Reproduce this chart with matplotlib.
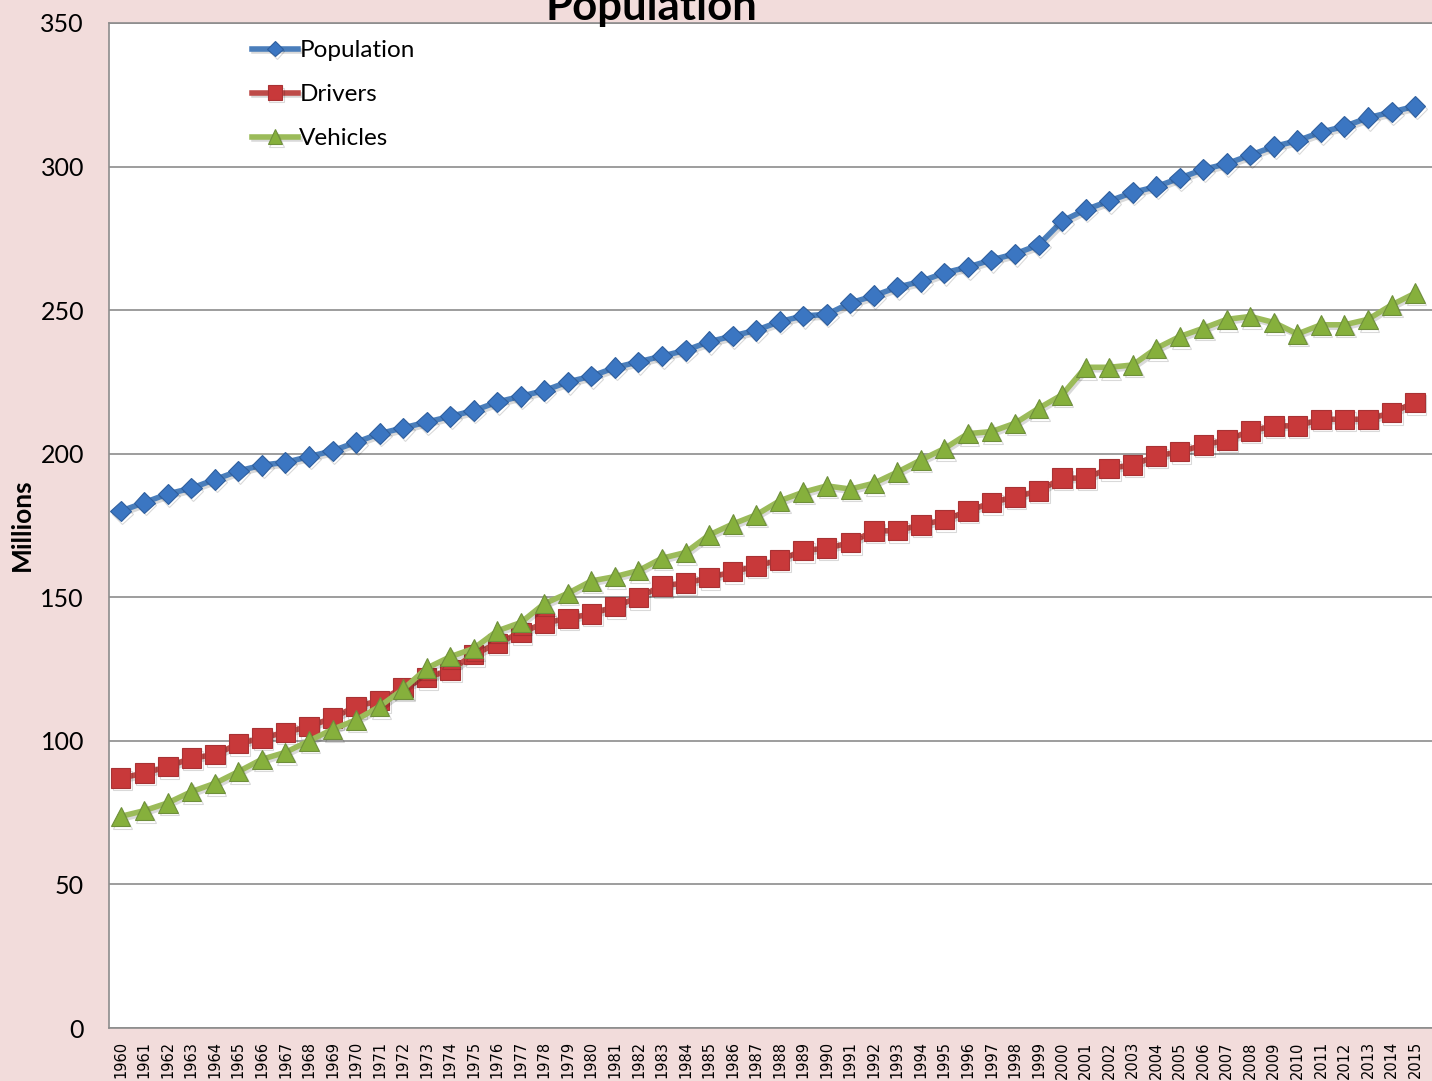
import matplotlib
matplotlib.use('Agg')
import matplotlib.pyplot as plt
import matplotlib.patheffects as pe

years = list(range(1960, 2016))

population = [180, 183, 186, 188, 191, 194, 196, 197, 199, 201,
              204, 207, 209, 211, 213, 215, 218, 220, 222, 225,
              227, 230, 232, 234, 236, 239, 241, 243, 246, 248,
              248.5, 252.5, 255, 258, 260, 263, 265, 267.5, 269.6, 272.7,
              281, 285, 288, 291, 293, 296, 299, 301, 304, 307,
              309, 312, 314, 317, 319, 321]

drivers = [87, 88.8, 91, 94, 95.2, 99, 101, 103, 105, 108,
           112, 114, 118.5, 122, 124.7, 130, 134, 137.7, 141, 142.7,
           144.2, 146.8, 150, 154, 155, 156.8, 158.9, 160.9, 163, 166.3,
           167.1, 169, 173.1, 173.2, 175.2, 177, 180, 183, 185, 187,
           191.5, 191.5, 194.9, 196.1, 199.2, 200.7, 203, 204.8, 207.9, 209.7,
           209.7, 212, 212, 212, 214.3, 217.9]

vehicles = [73.7, 75.7, 78.4, 82.3, 85.2, 89.3, 93.6, 96, 100, 104,
            107.3, 112, 118, 125.3, 129.3, 132.2, 138.3, 141.2, 147.8, 151.4,
            155.7, 157.2, 159.3, 163.6, 165.6, 171.7, 175.5, 178.7, 183.6, 186.6,
            188.8, 187.7, 189.7, 193.6, 197.8, 201.8, 207, 207.7, 210.6, 215.8,
            220.5, 230.1, 230.1, 230.9, 236.7, 240.8, 243.7, 246.8, 247.8, 245.7,
            241.7, 244.9, 244.9, 246.8, 251.8, 255.9]

bg = '#F2DCDB'
W, H = 1432, 1081
fig = plt.figure(figsize=(W / 100, H / 100), dpi=100, facecolor=bg)
ax = fig.add_axes([109 / W, (H - 1028) / H, (W - 109) / W, (1028 - 23) / H])
ax.set_facecolor('white')

x = list(range(len(years)))
shadow = [pe.SimpleLineShadow(offset=(1.2, -1.8), alpha=0.15, shadow_color='black'), pe.Normal()]

ax.plot(x, population, color='#4A7EBB', lw=4, marker='D', ms=10.5,
        mfc='#3B76C2', mec='#2F5F9E', mew=0.8, label='Population',
        path_effects=shadow, zorder=3)
ax.plot(x, drivers, color='#BE4B48', lw=4, marker='s', ms=14,
        mfc='#C8393A', mec='#A83234', mew=0.8, label='Drivers',
        path_effects=shadow, zorder=3)
ax.plot(x, vehicles, color='#9BBB59', lw=4, marker='^', ms=14,
        mfc='#86B03C', mec='#6E8F3A', mew=0.8, label='Vehicles',
        path_effects=shadow, zorder=4)

ax.set_xlim(-0.5, 55.72)
ax.set_ylim(0, 350)
ax.set_yticks(range(0, 351, 50))
ax.set_xticks(x)
ax.set_xticklabels([str(y) for y in years], rotation=90, fontsize=10.5,
                   family='DejaVu Sans')
ax.tick_params(axis='x', length=0, pad=9.5)
ax.tick_params(axis='y', length=0, pad=18, labelsize=18)
for lab in ax.get_yticklabels():
    lab.set_family('Lato')

ax.grid(axis='y', color='#8C8C8C', lw=1.2, zorder=0)
ax.set_axisbelow(True)
for side in ['left', 'top', 'bottom']:
    ax.spines[side].set_color('#8C8C8C')
    ax.spines[side].set_linewidth(1.2)
ax.spines['right'].set_visible(False)

fig.text(22 / W, 1 - 525 / H, 'Millions', rotation=90, ha='center', va='center',
         fontsize=19, fontweight='bold', family='Lato')
fig.text(651 / W, 1 - 20 / H, 'Population', ha='center', va='baseline',
         fontsize=31.5, fontweight='bold', family='Lato')

leg = ax.legend(loc='upper left', bbox_to_anchor=((252 - 109) / (W - 109), 1 - (40 - 23) / (1028 - 23)),
                frameon=False, prop={'family': 'Lato', 'size': 17.5}, handlelength=1.9,
                handletextpad=0.05, labelspacing=0.95, borderpad=0, borderaxespad=0,
                markerscale=0.75)

fig.savefig('out.png', dpi=100, facecolor=bg)
